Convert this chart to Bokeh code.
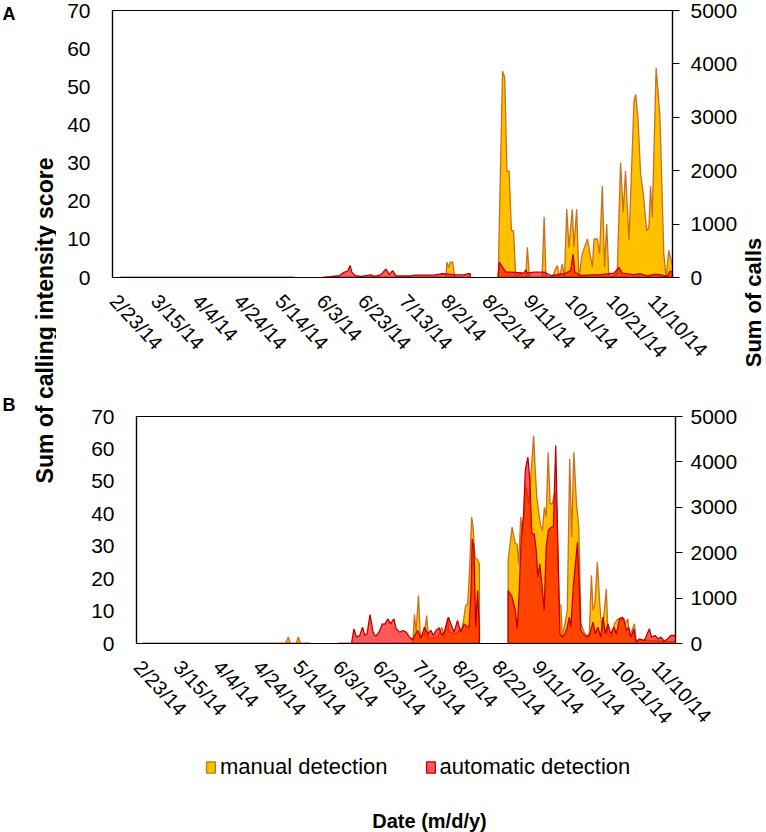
import math
from datetime import date
from bokeh.plotting import figure
from bokeh.models import Range1d, LinearAxis, FixedTicker, Label, Legend, LegendItem, Spacer
from bokeh.layouts import row, column
from bokeh.embed import file_html
from bokeh.resources import INLINE

FONT = "Liberation Sans"

# ---------------- data ----------------
START = date(2014, 2, 23)
tick_labels = ["2/23/14", "3/15/14", "4/4/14", "4/24/14", "5/14/14", "6/3/14", "6/23/14",
               "7/13/14", "8/2/14", "8/22/14", "9/11/14", "10/1/14", "10/21/14", "11/10/14"]
score_ticks = [0, 10, 20, 30, 40, 50, 60, 70]
calls_ticks = [0, 1000, 2000, 3000, 4000, 5000]

# x values: days since 2/23/14 ; None marks a gap in the recordings
manual_A_day = [3, 87.4, None,
                101, 160.6, 161.0, 161.8, 162.6, 163.8, 164.9, 172.3, None,
                185.8, 187.9, 189.0, 190.0, 191.1, 192.2, 193.2, 194.3, 196.7, 197.7, 199.1, 199.9,
                200.9, 207.0, 208.0, 208.9, 212.1, 213.1, 214.4, 215.4, 216.8, 217.8, 218.9, 220.0,
                221.6, 222.4, 223.7, 224.8, 226.4, 228.9, 231.3, 232.1, 233.7, 234.8, 236.1, 237.2,
                238.2, 239.3, 243.3, 244.9, 246.2, 247.3, 249.0, 251.4, 252.2, 253.3, 254.6, 255.9,
                257.5, 258.6, 259.4, 260.2, 262.1, 263.9, 265.8, 266.9, 268.2, 269.4, 270]
manual_A_score = [0, 0, None,
                  0, 0, 4.0, 2.7, 4.0, 4.0, 0, 0, None,
                  0, 54.1, 52.3, 27.9, 27.9, 12.3, 12.3, 0, 1.4, 0, 0, 7.9,
                  0, 0, 15.9, 0, 0, 1.8, 3.1, 0, 3.6, 0, 17.9, 7.9,
                  17.9, 7.9, 17.9, 0, 6.2, 10.1, 2.7, 10.1, 10.1, 6.2, 24.0, 2.7,
                  14.0, 0, 1.0, 30.1, 17.1, 27.9, 9.7, 46.2, 48.0, 41.9, 27.1, 21.9,
                  12.3, 13.1, 24.0, 15.8, 54.9, 42.7, 6.2, 0, 7.1, 4.4, 3.0]

auto_A_day = [3, 87.4, None,
              101.1, 109.1, 111.5, 113.1, 114.3, 115.1, 116.7, 119.6, 124.4, 126.0, 129.2, 131.6,
              133.2, 134.8, 136.4, 143.7, 145.3, 154.9, 159.0, 164.6, 169.4, 171.0, 172.3, None,
              185.8, 186.3, 187.9, 189.5, 191.9, 198.3, 199.1, 199.9, 203.1, 208.0, 211.2, 217.6,
              220.8, 222.0, 222.8, 225.6, 235.3, 241.7, 244.1, 245.7, 251.4, 254.6, 257.8, 261.0,
              264.2, 267.4, 268.7, 270]
auto_A_calls = [0, 0, None,
                0, 37, 100, 118, 224, 100, 37, 20, 50, 20, 55, 160,
                55, 130, 30, 30, 45, 45, 70, 55, 50, 70, 70, None,
                30, 286, 190, 100, 100, 80, 143, 80, 100, 100, 37, 70,
                130, 440, 100, 37, 55, 80, 190, 80, 55, 70, 30, 60,
                55, 20, 118, 100]

manual_B_day = [2.8, 74.2, 75.7, 76.7, 79.7, 80.7, 81.7, 86.7, None,
                100.8, 138.1, 139.0, 139.8, 141.0, 142.0, 144.0, 145.1, 146.1, 150.6, 152.8, 153.9,
                155.6, 156.4, 159.7, 163.1, 164.7, 165.7, 166.7, 167.7, 168.4, 169.4, 170.5, 171.6, None,
                186.0, 188.0, 189.6, 190.5, 191.3, 192.3, 193.3, 194.3, 195.1, 196.3, 197.4, 198.8,
                199.6, 200.4, 202.1, 203.2, 204.2, 205.1, 206.1, 207.1, 208.2, 209.5, 210.4, 211.6,
                212.5, 213.2, 214.5, 215.7, 216.9, 217.9, 219.0, 220.3, 221.5, 222.5, 224.5, 226.7,
                227.8, 228.6, 229.5, 230.8, 232.0, 233.1, 234.1, 235.3, 236.1, 237.8, 239.4, 241.1,
                243.6, 244.8, 246.1, 246.9, 249.4, 250.2, 254.4, 270]
manual_B_score = [0, 0, 2.0, 0, 0, 2.0, 0, 0, None,
                  0, 0, 9.0, 3.5, 14.8, 1.5, 3.0, 8.6, 1.5, 2.0, 5.0, 2.0,
                  7.9, 3.5, 3.0, 5.0, 11.7, 12.2, 23.5, 39.0, 35.9, 26.6, 26.0, 24.6, None,
                  25.6, 35.9, 30.7, 30.7, 24.6, 39.0, 33.8, 45.1, 48.2, 43.1, 51.3, 64.1,
                  53.4, 45.1, 36.9, 34.8, 42.0, 39.0, 59.0, 43.1, 43.1, 47.2, 41.0, 12.2,
                  11.7, 2.0, 6.1, 10.2, 57.0, 32.8, 59.0, 43.1, 35.9, 6.1, 3.0, 2.0,
                  21.0, 10.2, 12.2, 25.1, 12.2, 4.0, 9.1, 16.9, 3.0, 2.0, 6.1, 7.6,
                  7.6, 6.1, 7.6, 2.0, 6.1, 1.0, 1.0, 0.5]

auto_B_day = [2.8, 86.7, None,
              100.8, 107.4, 108.6, 109.9, 111.6, 112.9, 114.1, 115.2, 116.7, 118.2, 119.5, 121.2,
              122.9, 124.0, 125.7, 126.9, 128.7, 129.8, 131.5, 133.2, 134.8, 136.5, 138.1, 139.5,
              140.6, 142.3, 144.0, 145.6, 147.3, 148.4, 149.8, 151.4, 152.8, 153.9, 156.1, 157.2,
              158.9, 160.6, 162.2, 163.9, 165.5, 166.4, 167.4, 168.0, 168.9, 169.7, 170.7, 171.6, None,
              186.0, 188.0, 189.6, 190.6, 191.6, 192.6, 193.8, 194.6, 195.9, 196.8, 197.9, 199.1,
              200.1, 200.9, 201.9, 202.9, 204.1, 205.1, 206.2, 207.6, 208.7, 209.9, 210.9, 212.0,
              213.2, 214.5, 215.7, 216.7, 217.5, 218.7, 219.8, 220.8, 221.7, 222.5, 223.7, 225.3,
              227.0, 228.6, 229.8, 231.1, 232.5, 233.6, 234.8, 236.1, 237.5, 239.1, 240.3, 241.9,
              243.1, 244.1, 245.3, 246.4, 247.8, 249.1, 250.2, 251.9, 254.4, 256.9, 258.0, 259.7,
              261.4, 262.7, 264.3, 266.0, 267.7, 269.3, 270]
auto_B_calls = [0, 0, None,
                0, 0, 323, 140, 180, 360, 180, 213, 639, 250, 154, 250,
                433, 420, 543, 433, 543, 323, 250, 286, 250, 140, 80, 213,
                286, 125, 360, 213, 286, 176, 286, 345, 176, 250, 580, 433,
                250, 507, 250, 433, 360, 360, 1168, 2306, 2049, 360, 1168, 300, None,
                1168, 1020, 727, 323, 1168, 2342, 2856, 3811, 4105, 3664, 2416, 2416,
                2049, 1461, 1755, 1314, 727, 2122, 2489, 2563, 2563, 4362, 2269, 213,
                140, 213, 360, 580, 360, 1241, 1755, 2232, 1241, 286, 213, 140,
                213, 470, 213, 360, 140, 580, 213, 433, 213, 360, 213, 543,
                580, 543, 286, 360, 140, 323, 30, 100, 66, 323, 140, 176,
                100, 140, 50, 100, 176, 176, 150]

# ---------------- helpers ----------------
tick_days = []
for lbl in tick_labels:
    m, d, y = (int(t) for t in lbl.split("/"))
    tick_days.append((date(2000 + y, m, d) - START).days)

MAN_FILL, MAN_LINE = "#FFC000", "#C8701E"
AUT_FILL, AUT_LINE = "#FF0000", "#C00000"
AUT_ALPHA = 0.65
NAN = float("nan")


def segments(days, vals):
    segs, xs, ys = [], [], []
    for d, v in zip(days, vals):
        if d is None:
            if xs:
                segs.append((xs, ys))
            xs, ys = [], []
        else:
            xs.append(d)
            ys.append(v)
    if xs:
        segs.append((xs, ys))
    return segs


def draw_area(p, days, vals, fill, line, alpha, rng="default"):
    rs = []
    for xs, ys in segments(days, vals):
        r = p.patch(xs + xs[::-1], ys + [0] * len(xs), fill_color=fill, fill_alpha=alpha,
                    line_color=line, line_width=1.3, y_range_name=rng)
        rs.append(r)
    return rs


def style_axis(ax, standoff, tick_out, size="21px"):
    ax.axis_line_color = "black"
    ax.axis_line_width = 1.2
    ax.major_tick_out = tick_out
    ax.major_tick_in = 0
    ax.major_tick_line_color = "black" if tick_out else None
    ax.minor_tick_line_color = None
    ax.major_label_text_font = FONT
    ax.major_label_text_font_size = size
    ax.major_label_text_color = "black"
    ax.major_label_standoff = standoff


def blank(width, height, bl=0, br=0):
    p = figure(width=width, height=height, x_range=Range1d(0, width - bl - br),
               y_range=Range1d(0, height), toolbar_location=None, output_backend="svg",
               min_border_left=bl, min_border_right=br, min_border_top=0, min_border_bottom=0,
               x_axis_location=None, y_axis_location=None)
    p.outline_line_color = None
    p.xgrid.visible = False
    p.ygrid.visible = False
    return p


x_range = Range1d(-0.5, 270)


def make_panel(width, height, bl, br, bt, bb, mday, mval, aday, aval, rstandoff):
    p = figure(width=width, height=height, x_range=x_range, y_range=Range1d(0, 70),
               toolbar_location=None, output_backend="svg",
               min_border_left=bl, min_border_right=br, min_border_top=bt, min_border_bottom=bb)
    p.extra_y_ranges = {"calls": Range1d(0, 5000)}
    p.xgrid.visible = False
    p.ygrid.visible = False
    p.outline_line_color = "black"
    p.outline_line_width = 1.2

    p.xaxis.ticker = FixedTicker(ticks=tick_days)
    p.xaxis.major_label_overrides = {d: l for d, l in zip(tick_days, tick_labels)}
    p.xaxis.major_label_orientation = -0.82
    style_axis(p.xaxis[0], 20, 0, "20px")

    p.yaxis.ticker = FixedTicker(ticks=score_ticks)
    style_axis(p.yaxis[0], 22, 0)

    right = LinearAxis(y_range_name="calls", ticker=FixedTicker(ticks=calls_ticks))
    style_axis(right, rstandoff, 7)
    p.add_layout(right, "right")

    rm = draw_area(p, mday, mval, MAN_FILL, MAN_LINE, 1.0)
    ra = draw_area(p, aday, aval, AUT_FILL, AUT_LINE, AUT_ALPHA, "calls")
    return p, rm, ra


# page layout: left strip 0..56, panels 56..740, right strip 740..766
# Panel A: frame x 112..672, y 10..277
pA, rmA, raA = make_panel(684, 390, 56, 68, 10, 113,
                          manual_A_day, manual_A_score, auto_A_day, auto_A_calls, 11)
# Panel B: frame x 136..678, y 416..643  (shifted by a 24px spacer)
pB, rmB, raB = make_panel(660, 350, 56, 62, 26, 97,
                          manual_B_day, manual_B_score, auto_B_day, auto_B_calls, 8)

# bottom strip: legend + x title (frame x 112..672, y 740..832)
bottom = blank(684, 92, 56, 68)
pm = bottom.quad(left=[NAN], right=[NAN], top=[NAN], bottom=[NAN], fill_color=MAN_FILL,
                 line_color=MAN_LINE, line_width=1.3)
pa = bottom.quad(left=[NAN], right=[NAN], top=[NAN], bottom=[NAN], fill_color=AUT_FILL,
                 fill_alpha=AUT_ALPHA, line_color=AUT_LINE, line_width=1.3)
legend = Legend(items=[LegendItem(label="manual detection", renderers=[pm]),
                       LegendItem(label="automatic detection", renderers=[pa])],
                orientation="horizontal", location=(93, 52),
                border_line_color=None, background_fill_alpha=0,
                label_text_font=FONT, label_text_font_size="22px", label_text_color="black",
                glyph_width=11, glyph_height=14, spacing=37, label_standoff=4,
                padding=0, margin=0)
bottom.add_layout(legend, "center")
bottom.add_layout(Label(x=317, y=12, text="Date (m/d/y)", text_align="center",
                        text_baseline="middle", text_font=FONT, text_font_size="20px",
                        text_font_style="bold", text_color="black"))

# left strip with panel letters and the shared left-axis title
left = blank(56, 832)
for txt, yy in (("A", 829), ("B", 438)):
    left.add_layout(Label(x=2, y=yy, text=txt, text_align="left", text_baseline="top",
                          text_font=FONT, text_font_size="18px", text_font_style="bold",
                          text_color="black"))
left.add_layout(Label(x=44, y=512, text="Sum of calling intensity score", angle=math.pi / 2,
                      text_align="center", text_baseline="middle", text_font=FONT,
                      text_font_size="23px", text_font_style="bold", text_color="black"))

# right strip with the right-axis title
right_strip = blank(26, 832)
right_strip.add_layout(Label(x=13, y=530, text="Sum of calls", angle=math.pi / 2,
                             text_align="center", text_baseline="middle", text_font=FONT,
                             text_font_size="22px", text_font_style="bold", text_color="black"))

center = column(pA, row(Spacer(width=24, height=350), pB, spacing=0), bottom, spacing=0)
layout = row(left, center, right_strip, spacing=0)
open("out.html", "w").write(file_html(layout, INLINE))
